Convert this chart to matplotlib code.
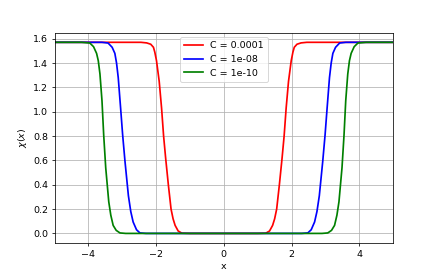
import numpy as np
import matplotlib
matplotlib.use("Agg")
import matplotlib.pyplot as plt

# chi(x), x >= 0 half (curves are symmetric in x)
x_red = [0, 1.0, 1.24, 1.35, 1.44, 1.5, 1.56, 1.64, 1.72, 1.78, 1.84, 1.91, 1.99, 2.04, 2.08, 2.16, 2.28, 2.45, 5.0]
y_red = [0, 0, 0.002, 0.02, 0.066, 0.12, 0.20, 0.40, 0.62, 0.80, 1.03, 1.25, 1.42, 1.49, 1.53, 1.555, 1.566, 1.5708, 1.5708]

x_blue = [0, 2.3, 2.48, 2.58, 2.68, 2.75, 2.82, 2.92, 2.99, 3.05, 3.12, 3.17, 3.22, 3.3, 3.42, 3.6, 5.0]
y_blue = [0, 0, 0.004, 0.03, 0.094, 0.18, 0.31, 0.59, 0.81, 1.03, 1.28, 1.40, 1.48, 1.53, 1.565, 1.5708, 1.5708]

x_green = [0, 2.9, 3.07, 3.18, 3.27, 3.34, 3.40, 3.49, 3.55, 3.60, 3.66, 3.71, 3.76, 3.85, 3.96, 4.2, 5.0]
y_green = [0, 0, 0.004, 0.025, 0.066, 0.15, 0.26, 0.54, 0.81, 1.09, 1.31, 1.42, 1.48, 1.535, 1.565, 1.5708, 1.5708]

labels = ["C = 0.0001", "C = 1e-08", "C = 1e-10"]
colors = ["r", "b", "g"]


def mirror(xs, ys):
    xs = np.asarray(xs, dtype=float)
    ys = np.asarray(ys, dtype=float)
    return np.concatenate([-xs[::-1], xs[1:]]), np.concatenate([ys[::-1], ys[1:]])


fig = plt.figure(figsize=(6.4, 4.0), dpi=68.25)
for xs, ys, lab, c in zip([x_red, x_blue, x_green], [y_red, y_blue, y_green], labels, colors):
    xx, yy = mirror(xs, ys)
    plt.plot(xx, yy, color=c, label=lab, linewidth=1.8)

plt.xlim(-5, 5)
plt.xlabel("x")
plt.ylabel(r"$\chi(x)$")
plt.grid(True)
plt.legend(loc="upper center")
plt.savefig("out.png", dpi=68.25)
